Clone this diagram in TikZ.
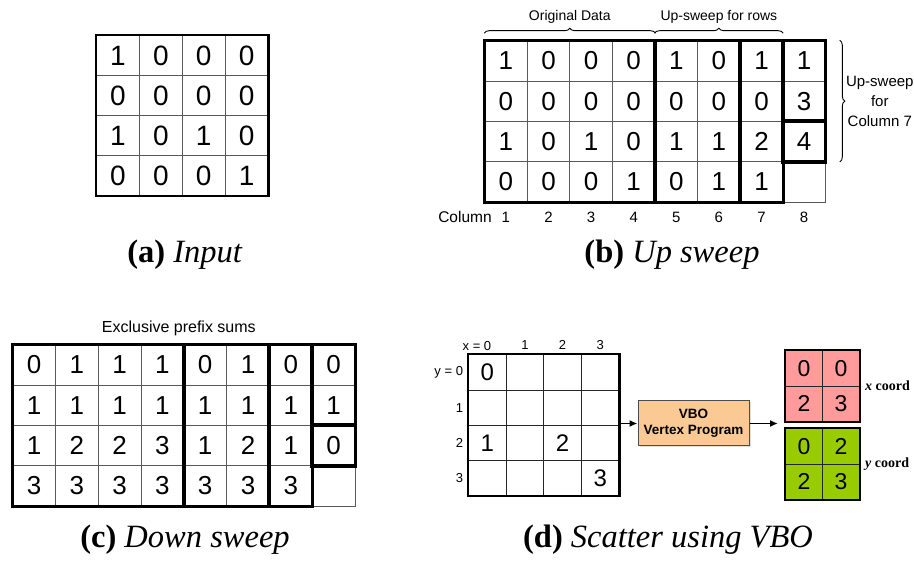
\documentclass[tikz,border=0pt]{standalone}
\usepackage{fontspec}
\setmainfont{Liberation Serif}
\setsansfont{Liberation Sans}
\usepackage{tikz}
\usetikzlibrary{matrix, positioning, shadows, decorations.pathreplacing, arrows.meta}
\definecolor{xpink}{HTML}{FF9B9B}
\definecolor{ygreen}{HTML}{99CC00}
\definecolor{vboorange}{HTML}{FBC994}
\tikzset{
    cell/.style = {draw=black!65, line width=0.8pt, inner sep=0pt, anchor=center, font=\sffamily\fontsize{26}{26}\selectfont}, % one square of a grid, centred so that empty squares line up too
    gridmat/.style = {matrix of nodes, nodes in empty cells, anchor=north west, inner sep=0pt, column sep=-0.8pt, row sep=-0.8pt}, % the grids are matrices with overlapping borders
    thickline/.style = {line width=3.2pt, line join=miter},
    midline/.style = {line width=2.2pt, line join=miter},
    smalltext/.style = {font=\sffamily\fontsize{14}{16}\selectfont, inner sep=0pt},
    axislab/.style = {font=\sffamily\fontsize{13}{15}\selectfont, inner sep=0pt},
    caption/.style = {font=\fontsize{32.5}{36}\selectfont, inner sep=0pt},
    brace/.style = {decorate, decoration={brace, amplitude=5pt}, line width=0.9pt},
    arr/.style = {-{Latex[length=8pt,width=7pt]}, line width=1.8pt}
}

\begin{document}
\begin{tikzpicture}[x=1pt, y=-1pt]
\useasboundingbox (0,0) rectangle (914,569);

% (a) input
\matrix (in) [gridmat, nodes={cell, minimum width=42.85pt, minimum height=40.1pt, font=\sffamily\fontsize{28}{28}\selectfont}] at (96,35) {
1 & 0 & 0 & 0 \\
0 & 0 & 0 & 0 \\
1 & 0 & 1 & 0 \\
0 & 0 & 0 & 1 \\
};
\draw[midline] (in-1-1.north west) rectangle (in-4-4.south east);
\node[caption] (capa) at (185,255) {\textbf{(a)} \textit{Input}};

% (b) up sweep
\matrix (up) [gridmat, nodes={cell, minimum width=42.6pt, minimum height=40.35pt}] at (484,40) {
1 & 0 & 0 & 0 & 1 & 0 & 1 & 1 \\
0 & 0 & 0 & 0 & 0 & 0 & 0 & 3 \\
1 & 0 & 1 & 0 & 1 & 1 & 2 & 4 \\
0 & 0 & 0 & 1 & 0 & 1 & 1 &   \\
};
\draw[thickline] (up-1-1.north west) rectangle (up-4-4.south east);
\draw[thickline] (up-1-5.north west) rectangle (up-4-6.south east);
\draw[thickline] (up-1-7.north west) rectangle (up-4-7.south east);
\draw[thickline] (up-1-8.north west) rectangle (up-2-8.south east);
\draw[thickline] (up-3-8.north west) rectangle (up-3-8.south east);
\draw[brace] ([yshift=7pt]up-1-1.north west) -- ([yshift=7pt]up-1-4.north east)
    node[smalltext, midway, yshift=16pt] (orig) {Original Data};
\draw[brace] ([yshift=7pt]up-1-5.north west) -- ([yshift=7pt]up-1-7.north east)
    node[smalltext, midway, yshift=16pt] (rows) {Up-sweep for rows};
\draw[brace] ([xshift=14pt]up-1-8.north east) -- ([xshift=14pt]up-3-8.south east)
    node[smalltext, midway, xshift=40pt, align=center, font=\sffamily\fontsize{15}{20}\selectfont] (upcol) {Up-sweep\\for\\Column 7};
\node[smalltext, font=\sffamily\fontsize{15.5}{17}\selectfont] (colword) at (465,217) {Column};
\foreach \c in {1,...,8}
    \node[smalltext, font=\sffamily\fontsize{15}{17}\selectfont] (col\c) at (up-4-\c |- colword) {\c};
\node[caption] (capb) at (672,255) {\textbf{(b)} \textit{Up sweep}};

% (c) down sweep
\matrix (down) [gridmat, nodes={cell, minimum width=42.8pt, minimum height=40.35pt}] at (12,344) {
0 & 1 & 1 & 1 & 0 & 1 & 0 & 0 \\
1 & 1 & 1 & 1 & 1 & 1 & 1 & 1 \\
1 & 2 & 2 & 3 & 1 & 2 & 1 & 0 \\
3 & 3 & 3 & 3 & 3 & 3 & 3 &   \\
};
\draw[thickline] (down-1-1.north west) rectangle (down-4-4.south east);
\draw[thickline] (down-1-5.north west) rectangle (down-4-6.south east);
\draw[thickline] (down-1-7.north west) rectangle (down-4-7.south east);
\draw[thickline] (down-1-8.north west) rectangle (down-2-8.south east);
\draw[thickline] (down-3-8.north west) rectangle (down-3-8.south east);
\node[smalltext, font=\sffamily\fontsize{16}{18}\selectfont, above=8pt of down, xshift=-5pt] (excl) {Exclusive prefix sums};
\node[caption] (capc) at (185,540) {\textbf{(c)} \textit{Down sweep}};

% (d) scatter using VBO
\matrix (sc) [gridmat, nodes={cell, draw=black!85, minimum width=37.6pt, minimum height=35.35pt, font=\sffamily\fontsize{24}{24}\selectfont}] at (468,354) {
0 &   &   &   \\
  &   &   &   \\
1 &   & 2 &   \\
  &   &   & 3 \\
};
\draw[midline] (sc-1-1.north west) rectangle (sc-4-4.south east);
\foreach \c/\t in {2/1,3/2,4/3}
    \node[axislab, above=4pt of sc-1-\c] (xl\c) {\t};
\node[axislab, anchor=east] (xl1) at ([xshift=4pt]sc-1-1 |- xl2) {x = 0};
\foreach \r/\t in {1/{y = 0},2/1,3/2,4/3}
    \node[axislab, left=5pt of sc-\r-1] (yl\r) {\t};

\node[draw=black!70, fill=vboorange, line width=1pt, minimum width=111pt, minimum height=45pt, align=center,
      font=\sffamily\bfseries\fontsize{13.5}{16}\selectfont,
      drop shadow={opacity=0.25, shadow xshift=1.5pt, shadow yshift=-1.5pt}] (vbo) at (693.5,423.5) {VBO\\Vertex Program};
\draw[arr] (vbo.west -| sc.east) -- (vbo.west);

\matrix (xc) [gridmat, nodes={cell, draw=black!85, fill=xpink, minimum width=36.9pt, minimum height=35.4pt, font=\sffamily\fontsize{23}{23}\selectfont}] at (785,350) {
0 & 0 \\
2 & 3 \\
};
\draw[midline] (xc-1-1.north west) rectangle (xc-2-2.south east);
\matrix (yc) [gridmat, nodes={cell, draw=black!85, fill=ygreen, minimum width=36.9pt, minimum height=35.4pt, font=\sffamily\fontsize{23}{23}\selectfont}] at (785,428) {
0 & 2 \\
2 & 3 \\
};
\draw[midline] (yc-1-1.north west) rectangle (yc-2-2.south east);
\node[font=\bfseries\fontsize{14}{16}\selectfont, inner sep=0pt, right=5pt of xc] (xlab) {\textit{x} coord};
\node[font=\bfseries\fontsize{14}{16}\selectfont, inner sep=0pt, right=5pt of yc] (ylab) {\textit{y} coord};
\coordinate (gap) at ([xshift=-7pt]xc.west |- vbo.east);
\draw[arr] (vbo.east) -- (gap);
\node[caption] (capd) at (668,540) {\textbf{(d)} \textit{Scatter using VBO}};
\end{tikzpicture}
\end{document}
